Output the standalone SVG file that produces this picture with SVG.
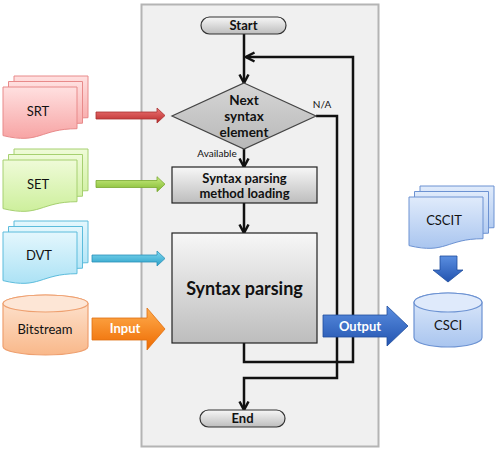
<svg xmlns="http://www.w3.org/2000/svg" width="500" height="450" viewBox="0 0 500 450">
<defs>
<style>
.t{font-family:Lato,"Liberation Sans",sans-serif;text-anchor:middle;fill:#111}
.b{font-weight:bold}
.w{fill:#fff;font-weight:bold}
.ln{fill:none;stroke:#111;stroke-width:2.5}
.arr{marker-end:url(#ah)}
</style>
<marker id="ah" viewBox="0 0 12 12" markerWidth="12" markerHeight="12" markerUnits="userSpaceOnUse" refX="10.5" refY="6" orient="auto">
<path d="M2,1.5 L10.5,6 L2,10.5" fill="none" stroke="#111" stroke-width="2.5"/>
</marker>
<path id="doc" d="M0,0 H74 V41.7 C37,41.7 37,57.6 0,48.6 Z"/>
<linearGradient id="gRed" x1="0" y1="0" x2="0" y2="1"><stop offset="0" stop-color="#ffe0e0"/><stop offset="1" stop-color="#f7a4a4"/></linearGradient>
<linearGradient id="gGrn" x1="0" y1="0" x2="0" y2="1"><stop offset="0" stop-color="#effbd8"/><stop offset="1" stop-color="#cdef9c"/></linearGradient>
<linearGradient id="gCy" x1="0" y1="0" x2="0" y2="1"><stop offset="0" stop-color="#e4f7fd"/><stop offset="1" stop-color="#ace2f5"/></linearGradient>
<linearGradient id="gBl" x1="0" y1="0" x2="0" y2="1"><stop offset="0" stop-color="#e0ebfb"/><stop offset="1" stop-color="#a9c5ef"/></linearGradient>
<linearGradient id="gOr" x1="0" y1="0" x2="0" y2="1"><stop offset="0" stop-color="#fee6d4"/><stop offset="1" stop-color="#f9b88a"/></linearGradient>
<linearGradient id="gBox" x1="0" y1="0" x2="0" y2="1"><stop offset="0" stop-color="#f7f7f7"/><stop offset="1" stop-color="#bdbdbd"/></linearGradient>
<linearGradient id="gDia" x1="0" y1="0" x2="0" y2="1"><stop offset="0" stop-color="#d6d6d6"/><stop offset="1" stop-color="#b8b8b8"/></linearGradient>
<linearGradient id="aRed" x1="0" y1="0" x2="0" y2="1"><stop offset="0" stop-color="#ee7777"/><stop offset="1" stop-color="#b82a2a"/></linearGradient>
<linearGradient id="aGrn" x1="0" y1="0" x2="0" y2="1"><stop offset="0" stop-color="#c8ec80"/><stop offset="1" stop-color="#80b830"/></linearGradient>
<linearGradient id="aCy" x1="0" y1="0" x2="0" y2="1"><stop offset="0" stop-color="#80d8f0"/><stop offset="1" stop-color="#2aa0c8"/></linearGradient>
<linearGradient id="aOr" x1="0" y1="0" x2="0" y2="1"><stop offset="0" stop-color="#ffae50"/><stop offset="1" stop-color="#ee6a00"/></linearGradient>
<linearGradient id="aBl" x1="0" y1="0" x2="0" y2="1"><stop offset="0" stop-color="#5a8ee0"/><stop offset="1" stop-color="#2354b0"/></linearGradient>
</defs>

<rect id="panel" x="141.5" y="4.5" width="237" height="442" fill="#f0f0f0" stroke="#b4b4b4" stroke-width="2"/>

<g id="connectors">
<line class="ln arr" x1="244" y1="34" x2="244" y2="83"/>
<line class="ln arr" x1="244" y1="149" x2="244" y2="167"/>
<line class="ln arr" x1="244" y1="203" x2="244" y2="233"/>
<polyline class="ln arr" points="244,343 244,362 353,362 353,57 246,57"/>
<polyline class="ln arr" points="316,116 337,116 337,378 244,378 244,410"/>
<text class="t" x="322" y="108" font-size="10">N/A</text>
<text class="t" x="217" y="157" font-size="10">Available</text>
</g>

<g id="start">
<rect x="201" y="17" width="85" height="17" rx="8.5" fill="url(#gBox)" stroke="#333" stroke-width="1.2"/>
<text class="t b" x="243.5" y="30" font-size="13">Start</text>
</g>

<g id="decision">
<polygon points="244,83 316,116 244,149 172,116" fill="url(#gDia)" stroke="#444" stroke-width="1.2"/>
<text class="t b" x="244" y="105" font-size="13.5">Next</text>
<text class="t b" x="244" y="121" font-size="13.5">syntax</text>
<text class="t b" x="244" y="137" font-size="13.5">element</text>
</g>

<g id="loading">
<rect x="172" y="167" width="145" height="36" fill="url(#gBox)" stroke="#222" stroke-width="1.2"/>
<text class="t b" x="244.5" y="183" font-size="13">Syntax parsing</text>
<text class="t b" x="244.5" y="198" font-size="13">method loading</text>
</g>

<g id="parsing">
<rect x="172" y="233" width="145" height="110" fill="url(#gBox)" stroke="#222" stroke-width="1.2"/>
<text class="t b" x="244.5" y="295" font-size="18">Syntax parsing</text>
</g>

<g id="end">
<rect x="200" y="410" width="85" height="17" rx="8.5" fill="url(#gBox)" stroke="#333" stroke-width="1.2"/>
<text class="t b" x="242.5" y="423" font-size="13">End</text>
</g>

<g id="srt">
<use href="#doc" x="14" y="76" fill="url(#gRed)" stroke="#e88a8a"/>
<use href="#doc" x="8.5" y="81.5" fill="url(#gRed)" stroke="#e88a8a"/>
<use href="#doc" x="3" y="87" fill="url(#gRed)" stroke="#e88a8a"/>
<text class="t" x="38" y="116" font-size="13">SRT</text>
</g>
<path id="srt-arrow" d="M96,112 H157 V108 L165,115.5 L157,123 V119 H96 Z" fill="url(#aRed)" stroke="#a83030" stroke-width="0.8"/>

<g id="set">
<use href="#doc" x="14" y="149" fill="url(#gGrn)" stroke="#a6d070"/>
<use href="#doc" x="8.5" y="154.5" fill="url(#gGrn)" stroke="#a6d070"/>
<use href="#doc" x="3" y="160" fill="url(#gGrn)" stroke="#a6d070"/>
<text class="t" x="38" y="189" font-size="13">SET</text>
</g>
<path id="set-arrow" d="M96,180.5 H157 V176.7 L165,184.2 L157,191.7 V187.5 H96 Z" fill="url(#aGrn)" stroke="#78a830" stroke-width="0.8"/>

<g id="dvt">
<use href="#doc" x="14" y="221" fill="url(#gCy)" stroke="#5cbcdc"/>
<use href="#doc" x="8.5" y="226.5" fill="url(#gCy)" stroke="#5cbcdc"/>
<use href="#doc" x="3" y="232" fill="url(#gCy)" stroke="#5cbcdc"/>
<text class="t" x="39" y="260" font-size="13">DVT</text>
</g>
<path id="dvt-arrow" d="M92,255 H157 V251 L165,258.5 L157,266 V262 H92 Z" fill="url(#aCy)" stroke="#2a90b8" stroke-width="0.8"/>

<g id="bitstream">
<path d="M3,303.5 A42.5,8.5 0 0 1 88,303.5 V346.5 A42.5,8.5 0 0 1 3,346.5 Z" fill="url(#gOr)" stroke="#eea070" stroke-width="1.2"/>
<ellipse cx="45.5" cy="303.5" rx="42.5" ry="8.5" fill="#fde6d6" stroke="#eea070" stroke-width="1.2"/>
<text class="t" x="45" y="334" font-size="13">Bitstream</text>
</g>
<g id="input-arrow">
<path d="M92,318 H147 V308 L165,329 L147,350 V340 H92 Z" fill="url(#aOr)" stroke="#e07010" stroke-width="0.8"/>
<text class="t w" x="125" y="333" font-size="13">Input</text>
</g>

<g id="output-arrow">
<path d="M323,315 H387 V306 L408,326 L387,346 V337 H323 Z" fill="url(#aBl)" stroke="#1e4c9c" stroke-width="0.8"/>
<text class="t w" x="360" y="331" font-size="13">Output</text>
</g>

<g id="cscit">
<use href="#doc" x="420" y="186" fill="url(#gBl)" stroke="#6c92d2"/>
<use href="#doc" x="414.5" y="191.5" fill="url(#gBl)" stroke="#6c92d2"/>
<use href="#doc" x="409" y="197" fill="url(#gBl)" stroke="#6c92d2"/>
<text class="t" x="444" y="225" font-size="13">CSCIT</text>
</g>
<path id="down-arrow" d="M440,256 H457 V270 H463 L448,282 L433,270 H440 Z" fill="url(#aBl)" stroke="#1e4c9c" stroke-width="0.8"/>

<g id="csci">
<path d="M414,302.5 A34,9.5 0 0 1 482,302.5 V337.5 A34,9.5 0 0 1 414,337.5 Z" fill="url(#gBl)" stroke="#6c92d2" stroke-width="1.2"/>
<ellipse cx="448" cy="302.5" rx="34" ry="9.5" fill="#dfeafb" stroke="#6c92d2" stroke-width="1.2"/>
<text class="t" x="448" y="330" font-size="13">CSCI</text>
</g>
</svg>
